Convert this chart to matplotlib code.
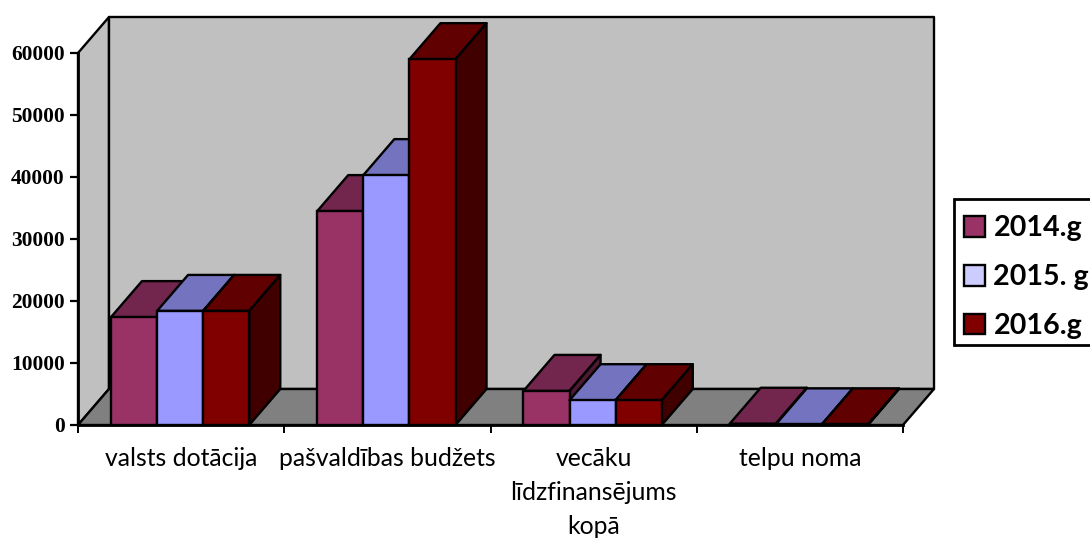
import matplotlib
matplotlib.use("Agg")
import matplotlib.pyplot as plt
from matplotlib.patches import Polygon, Patch, Rectangle

categories = ["valsts dotācija", "pašvaldības budžets", "vecāku\nlīdzfinansējums\nkopā", "telpu noma"]
series_names = ["2014.g", "2015. g", "2016.g"]
values_2014 = [17400, 34500, 5500, 200]
values_2015 = [18400, 40300, 4000, 100]
values_2016 = [18400, 59000, 4000, 100]
yticks = [0, 10000, 20000, 30000, 40000, 50000, 60000]

front_colors = ["#993366", "#9999FF", "#800000"]
top_colors = ["#73264D", "#7373BF", "#600000"]
side_colors = ["#4D1933", "#4D4D80", "#400000"]
legend_colors = ["#993366", "#CCCCFF", "#800000"]

W, H = 1090, 538
fig = plt.figure(figsize=(W / 100, H / 100), dpi=100)
L, R, T, B = 78, 903, 53, 425
ax = fig.add_axes([L / W, 1 - B / H, (R - L) / W, (B - T) / H])
ax.set_xlim(0, 4)
ax.set_ylim(0, 60000)
ax.patch.set_visible(False)
for s in ["top", "right"]:
    ax.spines[s].set_visible(False)
for s in ["left", "bottom"]:
    ax.spines[s].set_linewidth(2.0)
    ax.spines[s].set_zorder(6)

# depth of the oblique projection, in data units
dx = 31 / ((R - L) / 4)
dy = 36 / ((B - T) / 60000)
ymax = 60000
EC = "black"


def poly(pts, fc, z, lw=1.5):
    ax.add_patch(Polygon(pts, closed=True, facecolor=fc, edgecolor=EC, linewidth=lw,
                         joinstyle="round", clip_on=False, zorder=z))


# walls and floor
poly([(0, 0), (dx, dy), (dx, ymax + dy), (0, ymax)], "#C0C0C0", 1, 1.7)
poly([(dx, dy), (4 + dx, dy), (4 + dx, ymax + dy), (dx, ymax + dy)], "#C0C0C0", 1, 1.7)
poly([(0, 0), (dx, dy), (4 + dx, dy), (4, 0)], "#808080", 1.5, 1.7)

# bars
bar_w = 46.1 / ((R - L) / 4)
gap = (1 - 3 * bar_w) / 2 - 1.0 / ((R - L) / 4)
all_vals = [values_2014, values_2015, values_2016]
for c in range(len(categories)):
    for s, vals in enumerate(all_vals):
        x0 = c + gap + s * bar_w
        x1 = x0 + bar_w
        v = vals[c]
        z = 2 + s * 0.1
        poly([(x0, v), (x1, v), (x1 + dx, v + dy), (x0 + dx, v + dy)], top_colors[s], z, 1.7)
        poly([(x1, 0), (x1 + dx, dy), (x1 + dx, v + dy), (x1, v)], side_colors[s], z, 1.7)
        ax.bar(x0, v, width=bar_w, align="edge", color=front_colors[s], edgecolor=EC,
               linewidth=1.7, zorder=z + 0.01, clip_on=False)

ax.set_yticks(yticks)
ax.set_yticklabels([str(t) for t in yticks], family="Liberation Serif", fontweight="bold", fontsize=15.4)
ax.tick_params(axis="y", length=5.5, width=1.6, pad=4.2)
ax.set_xticks(range(5))
ax.set_xticklabels([])
ax.tick_params(axis="x", length=6, width=1.4)
ax.set_xticks([i + 0.5 for i in range(4)], minor=True)
ax.set_xticklabels(categories, minor=True, family="Lato", fontsize=17.8, linespacing=1.58)
ax.tick_params(axis="x", which="minor", length=0, pad=15.5)

# legend frame runs past the right edge of the picture, as in the reference
fig.add_artist(Rectangle((954 / W, 1 - 345 / H), 150 / W, 146 / H, transform=fig.transFigure,
                         facecolor="white", edgecolor="black", linewidth=2.0, zorder=3))
handles = [Patch(facecolor=c, edgecolor="black", linewidth=1.7, label=n)
           for c, n in zip(legend_colors, series_names)]
leg = fig.legend(handles=handles, loc="upper left", borderaxespad=0,
                 bbox_to_anchor=(954 / W, 1 - 205 / H), frameon=False,
                 borderpad=0.36, labelspacing=0.8,
                 handlelength=0.74, handleheight=0.74, handletextpad=0.28,
                 prop={"family": "Lato", "weight": "bold", "size": 20.6})
leg.set_zorder(4)

fig.savefig("out.png", dpi=100)
